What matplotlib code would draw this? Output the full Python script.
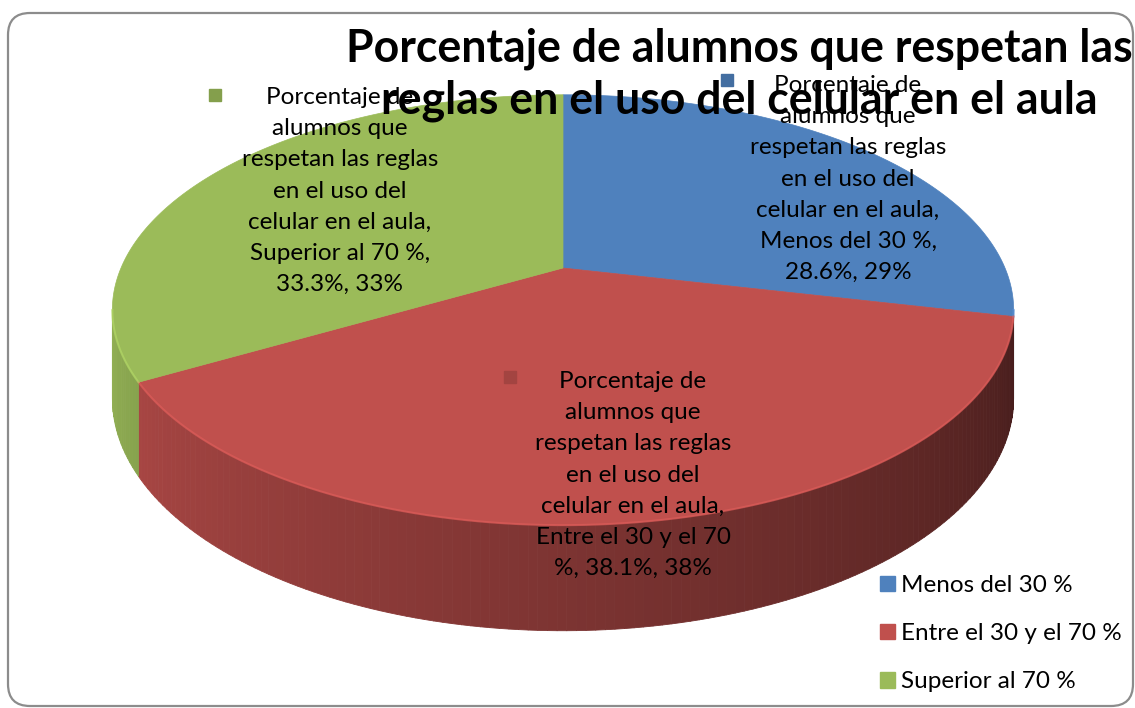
import textwrap
import numpy as np
import matplotlib
matplotlib.use('Agg')
import matplotlib.pyplot as plt
from matplotlib.patches import Polygon, FancyBboxPatch, Patch
from matplotlib.collections import PolyCollection
from matplotlib.colors import to_rgb

# datos
titulo = 'Porcentaje de alumnos que respetan las\nreglas en el uso del celular en el aula'
categorias = ['Menos del 30 %', 'Entre el 30 y el 70 %', 'Superior al 70 %']
porcentajes = [28.6, 38.1, 33.3]
redondeados = ['29%', '38%', '33%']
serie = 'Porcentaje de\nalumnos que\nrespetan las reglas\nen el uso del\ncelular en el aula,\n'
colores = ['#4F81BD', '#C0504D', '#9BBB59']

# geometria del pastel en pixeles
cx, cy = 563, 268
A, B, D, p = 442, 207, 85, 0.195

def proyectar(theta, z=0.0):
    X, Z = np.sin(theta), np.cos(theta)
    s = 1 / (1 + p * Z)
    return cx + A * X * s, cy - B * Z * s + D * s * z

def oscurecer(c, f):
    r, g, b = to_rgb(c)
    return (min(r * f, 1), min(g * f, 1), min(b * f, 1))

fig = plt.figure(figsize=(11.35, 7.08), dpi=100)
ax = fig.add_axes([0, 0, 1, 1])
ax.set_xlim(0, 1135)
ax.set_ylim(708, 0)
ax.axis('off')

ax.add_patch(FancyBboxPatch((8, 13), 1125, 693, boxstyle='round,pad=0,rounding_size=22',
                            fc='white', ec='#8c8c8c', lw=1.6, zorder=0))

total = sum(porcentajes)
cortes = np.concatenate([[0], np.cumsum(porcentajes) / total * 2 * np.pi])
t_izq, t_der = np.arccos(-p), 2 * np.pi - np.arccos(-p)

# lados visibles
quads, cols = [], []
for i, c in enumerate(colores):
    a0, a1 = max(cortes[i], t_izq), min(cortes[i + 1], t_der)
    if a1 <= a0:
        continue
    ts = np.linspace(a0, a1, max(int(np.degrees(a1 - a0)), 2))
    for ta, tb in zip(ts[:-1], ts[1:]):
        xa, ya = proyectar(ta)
        xb, yb = proyectar(tb)
        xc, yc = proyectar(tb, 1)
        xd, yd = proyectar(ta, 1)
        quads.append([(xa, ya), (xb, yb), (xc, yc), (xd, yd)])
        tm = (ta + tb) / 2
        f = 0.36 + (tm - t_izq) / (t_der - t_izq) * 0.58
        cols.append(oscurecer(c, f))
ax.add_collection(PolyCollection(quads, facecolors=cols, edgecolors=cols, lw=0.6, zorder=1))

# caras superiores
for i, c in enumerate(colores):
    ts = np.linspace(cortes[i], cortes[i + 1], 200)
    xs, ys = proyectar(ts)
    pts = [(cx, cy)] + list(zip(xs, ys))
    ax.add_patch(Polygon(pts, closed=True, fc=c, ec=c, lw=0.5, zorder=2))
    a0, a1 = max(cortes[i], t_izq), min(cortes[i + 1], t_der)
    if a1 > a0:
        tr = np.linspace(a0, a1, 100)
        xr, yr = proyectar(tr)
        ax.plot(xr, yr, color=oscurecer(c, 1.15), lw=1.5, alpha=0.7, zorder=3)

# etiquetas de datos
pos_texto = [(848, 179), (633, 475), (340, 191)]
pos_marca = [(727, 80), (510, 377), (215, 95)]
for i in range(3):
    cola = '\n'.join(textwrap.wrap(f'{categorias[i]}, {porcentajes[i]:.1f}%, {redondeados[i]}', 19))
    ax.text(*pos_texto[i], serie + cola, ha='center', va='center', fontsize=17.5, family='Lato',
            linespacing=1.6, color='black', zorder=5)
    ax.plot(*pos_marca[i], marker='s', ms=9, color=oscurecer(colores[i], 0.85), zorder=5)

# titulo ajustado al ancho
t = ax.text(739, 28, titulo, ha='center', va='top', fontsize=30, family='Lato',
            fontweight='bold', linespacing=1.25, zorder=6)
fig.canvas.draw()
prueba = ax.text(0, 0, titulo.split('\n')[1], fontsize=30, family='Lato', fontweight='bold')
w = prueba.get_window_extent(fig.canvas.get_renderer()).width
prueba.remove()
t.set_fontsize(30 * 715 / w)

# leyenda
manejadores = [Patch(fc=c, ec=c) for c in colores]
ax.legend(manejadores, categorias, loc='upper left', bbox_to_anchor=(880 / 1135, 1 - 575 / 708),
          frameon=False, prop={'family': 'Lato', 'size': 17.5}, handlelength=0.6, handleheight=0.6,
          handletextpad=0.25, labelspacing=1.12, borderpad=0, borderaxespad=0)

fig.savefig('out.png', dpi=100)
